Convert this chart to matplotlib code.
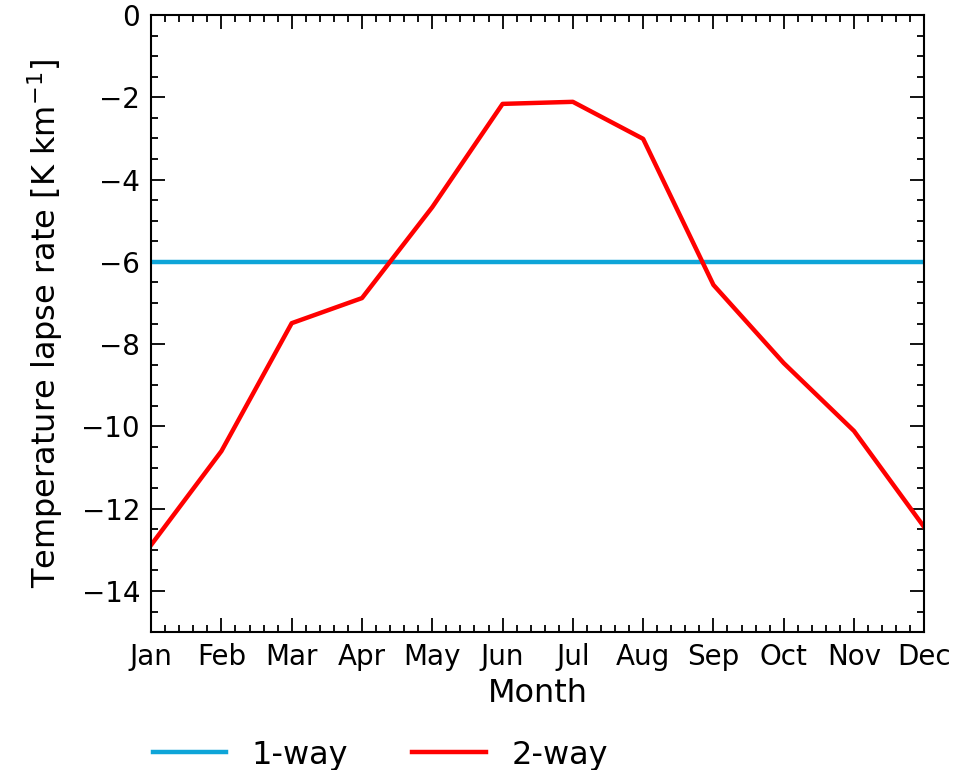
import matplotlib
matplotlib.use("Agg")
import matplotlib.pyplot as plt
from matplotlib.ticker import AutoMinorLocator

months = ["Jan", "Feb", "Mar", "Apr", "May", "Jun", "Jul", "Aug", "Sep", "Oct", "Nov", "Dec"]
one_way = [-6.0] * 12
two_way = [-12.88, -10.6, -7.49, -6.88, -4.67, -2.16, -2.11, -3.01, -6.56, -8.46, -10.11, -12.45]

fig = plt.figure(figsize=(9.75, 7.7), dpi=100)
ax = fig.add_axes([0.155, 0.179, 0.793, 0.8015])

x = range(len(months))
ax.plot(x, one_way, color="#0ea5d8", lw=3.2, label="1-way")
ax.plot(x, two_way, color="red", lw=3.2, label="2-way")

ax.set_xlim(0, 11)
ax.set_ylim(-15, 0)
ax.set_xticks(list(x))
ax.set_xticklabels(months)
ax.set_yticks(range(-14, 1, 2))
ax.xaxis.set_minor_locator(AutoMinorLocator(5))
ax.yaxis.set_minor_locator(AutoMinorLocator(4))
ax.tick_params(which="both", direction="in", top=True, right=True, labelsize=20, width=1.3)
ax.tick_params(which="major", length=10, pad=8)
ax.tick_params(which="minor", length=5)
for s in ax.spines.values():
    s.set_linewidth(1.5)

ax.set_xlabel("Month", fontsize=23, labelpad=5)
ax.set_ylabel(r"Temperature lapse rate [K km$^{-1}$]", fontsize=23, labelpad=12)

fig.legend(loc="lower left", bbox_to_anchor=(0.127, -0.038), ncol=2, frameon=False,
           fontsize=23, handlelength=2.3, handletextpad=0.8, columnspacing=2.0)

fig.savefig("out.png", dpi=100)
